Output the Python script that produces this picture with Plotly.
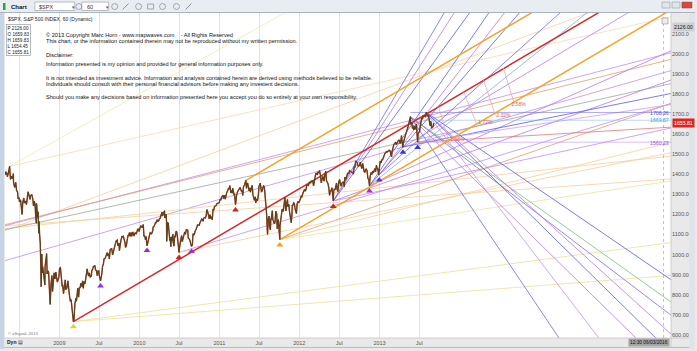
import plotly.graph_objects as go

# ---------------- price series: S&P 500 (60-min chart, sampled) ----------------
spx_2008 = [
    ("2008-04-28", 1397), ("2008-05-02", 1413), ("2008-05-06", 1405), ("2008-05-09", 1388),
    ("2008-05-14", 1410), ("2008-05-19", 1440), ("2008-05-23", 1375), ("2008-05-28", 1390),
    ("2008-06-02", 1378), ("2008-06-05", 1404), ("2008-06-06", 1360), ("2008-06-11", 1335),
    ("2008-06-16", 1360), ("2008-06-20", 1318), ("2008-06-24", 1314), ("2008-06-27", 1278),
    ("2008-07-01", 1284), ("2008-07-03", 1262), ("2008-07-08", 1273), ("2008-07-11", 1239),
    ("2008-07-15", 1200), ("2008-07-18", 1260), ("2008-07-23", 1282), ("2008-07-25", 1257),
    ("2008-07-29", 1263), ("2008-07-31", 1267), ("2008-08-04", 1249), ("2008-08-08", 1296),
    ("2008-08-11", 1313), ("2008-08-15", 1298), ("2008-08-20", 1275), ("2008-08-22", 1292),
    ("2008-08-28", 1300), ("2008-09-02", 1277), ("2008-09-05", 1242), ("2008-09-08", 1267),
    ("2008-09-12", 1252), ("2008-09-15", 1193), ("2008-09-18", 1156), ("2008-09-19", 1255),
    ("2008-09-24", 1186), ("2008-09-26", 1213), ("2008-09-29", 1106), ("2008-09-30", 1166),
    ("2008-10-03", 1099), ("2008-10-06", 1056), ("2008-10-09", 909), ("2008-10-10", 840),
    ("2008-10-13", 1003), ("2008-10-15", 908), ("2008-10-17", 940), ("2008-10-22", 896),
    ("2008-10-24", 877), ("2008-10-27", 848), ("2008-10-28", 940), ("2008-10-31", 968),
    ("2008-11-04", 1005), ("2008-11-06", 904), ("2008-11-10", 919), ("2008-11-13", 911),
    ("2008-11-14", 873), ("2008-11-19", 806), ("2008-11-20", 752), ("2008-11-24", 851),
    ("2008-11-28", 896), ("2008-12-01", 816), ("2008-12-04", 845), ("2008-12-08", 909),
    ("2008-12-12", 879), ("2008-12-16", 913), ("2008-12-19", 887), ("2008-12-23", 863),
    ("2008-12-30", 890),
]
spx_2009 = [
    ("2009-01-02", 931), ("2009-01-06", 934), ("2009-01-09", 890), ("2009-01-14", 842),
    ("2009-01-16", 850), ("2009-01-20", 805), ("2009-01-23", 831), ("2009-01-28", 874),
    ("2009-01-30", 826), ("2009-02-04", 832), ("2009-02-09", 869), ("2009-02-10", 827),
    ("2009-02-13", 827), ("2009-02-17", 789), ("2009-02-20", 770), ("2009-02-24", 773),
    ("2009-02-27", 735), ("2009-03-02", 700), ("2009-03-05", 682), ("2009-03-06", 666),
    ("2009-03-09", 677), ("2009-03-10", 720), ("2009-03-13", 756), ("2009-03-17", 778),
    ("2009-03-19", 784), ("2009-03-20", 768), ("2009-03-23", 823), ("2009-03-26", 832),
    ("2009-03-30", 788), ("2009-04-02", 834), ("2009-04-06", 835), ("2009-04-09", 857),
    ("2009-04-14", 841), ("2009-04-17", 869), ("2009-04-20", 832), ("2009-04-24", 866),
    ("2009-04-28", 855), ("2009-04-30", 873), ("2009-05-04", 907), ("2009-05-08", 929),
    ("2009-05-11", 909), ("2009-05-14", 893), ("2009-05-18", 909), ("2009-05-22", 887),
    ("2009-05-27", 893), ("2009-05-29", 919), ("2009-06-03", 931), ("2009-06-05", 940),
    ("2009-06-09", 942), ("2009-06-12", 946), ("2009-06-15", 923), ("2009-06-19", 921),
    ("2009-06-23", 895), ("2009-06-26", 918), ("2009-06-30", 919), ("2009-07-02", 896),
    ("2009-07-08", 869), ("2009-07-10", 879), ("2009-07-14", 905), ("2009-07-17", 940),
    ("2009-07-21", 954), ("2009-07-24", 979), ("2009-07-28", 980), ("2009-07-31", 987),
    ("2009-08-04", 1005), ("2009-08-07", 1010), ("2009-08-11", 994), ("2009-08-14", 1005),
    ("2009-08-17", 979), ("2009-08-21", 1026), ("2009-08-25", 1028), ("2009-08-28", 1029),
    ("2009-09-01", 998), ("2009-09-04", 1016), ("2009-09-08", 1025), ("2009-09-11", 1042),
    ("2009-09-17", 1068), ("2009-09-22", 1072), ("2009-09-25", 1044), ("2009-09-30", 1057),
    ("2009-10-02", 1020), ("2009-10-06", 1054), ("2009-10-09", 1071), ("2009-10-14", 1092),
    ("2009-10-16", 1087), ("2009-10-20", 1091), ("2009-10-23", 1080), ("2009-10-27", 1063),
    ("2009-10-30", 1036), ("2009-11-03", 1045), ("2009-11-06", 1069), ("2009-11-11", 1098),
    ("2009-11-13", 1093), ("2009-11-17", 1110), ("2009-11-20", 1091), ("2009-11-25", 1110),
    ("2009-11-27", 1091), ("2009-12-02", 1113), ("2009-12-04", 1106), ("2009-12-08", 1092),
    ("2009-12-11", 1106), ("2009-12-15", 1108), ("2009-12-18", 1102), ("2009-12-24", 1126),
    ("2009-12-28", 1127), ("2009-12-31", 1115),
]
spx_2010 = [
    ("2010-01-04", 1133), ("2010-01-08", 1144), ("2010-01-12", 1137), ("2010-01-15", 1136),
    ("2010-01-19", 1150), ("2010-01-22", 1092), ("2010-01-26", 1092), ("2010-01-29", 1074),
    ("2010-02-01", 1090), ("2010-02-04", 1063), ("2010-02-05", 1044), ("2010-02-08", 1056),
    ("2010-02-12", 1075), ("2010-02-17", 1100), ("2010-02-19", 1109), ("2010-02-24", 1105),
    ("2010-02-26", 1104), ("2010-03-03", 1119), ("2010-03-05", 1138), ("2010-03-09", 1140),
    ("2010-03-12", 1150), ("2010-03-16", 1160), ("2010-03-19", 1159), ("2010-03-23", 1174),
    ("2010-03-26", 1166), ("2010-03-31", 1169), ("2010-04-02", 1178), ("2010-04-07", 1182),
    ("2010-04-09", 1194), ("2010-04-15", 1211), ("2010-04-16", 1192), ("2010-04-20", 1207),
    ("2010-04-23", 1217), ("2010-04-26", 1219), ("2010-04-27", 1183), ("2010-04-30", 1187),
    ("2010-05-03", 1202), ("2010-05-05", 1166), ("2010-05-06", 1066), ("2010-05-07", 1110),
    ("2010-05-10", 1159), ("2010-05-13", 1157), ("2010-05-14", 1135), ("2010-05-18", 1120),
    ("2010-05-20", 1071), ("2010-05-21", 1087), ("2010-05-25", 1040), ("2010-05-26", 1068),
    ("2010-05-28", 1089), ("2010-06-01", 1070), ("2010-06-03", 1102), ("2010-06-04", 1064),
    ("2010-06-08", 1042), ("2010-06-11", 1091), ("2010-06-14", 1090), ("2010-06-18", 1117),
    ("2010-06-21", 1113), ("2010-06-25", 1076), ("2010-06-29", 1041), ("2010-07-01", 1011),
    ("2010-07-02", 1022), ("2010-07-07", 1060), ("2010-07-09", 1077), ("2010-07-13", 1095),
    ("2010-07-16", 1065), ("2010-07-20", 1083), ("2010-07-23", 1102), ("2010-07-27", 1113),
    ("2010-07-30", 1101), ("2010-08-04", 1127), ("2010-08-06", 1121), ("2010-08-10", 1121),
    ("2010-08-12", 1083), ("2010-08-16", 1079), ("2010-08-20", 1071), ("2010-08-24", 1051),
    ("2010-08-27", 1041), ("2010-08-31", 1049), ("2010-09-02", 1090), ("2010-09-03", 1104),
    ("2010-09-08", 1098), ("2010-09-10", 1110), ("2010-09-14", 1121), ("2010-09-17", 1125),
    ("2010-09-21", 1140), ("2010-09-24", 1148), ("2010-09-28", 1147), ("2010-10-01", 1146),
    ("2010-10-05", 1160), ("2010-10-08", 1165), ("2010-10-13", 1178), ("2010-10-15", 1176),
    ("2010-10-19", 1166), ("2010-10-22", 1183), ("2010-10-26", 1185), ("2010-10-29", 1183),
    ("2010-11-02", 1193), ("2010-11-05", 1225), ("2010-11-09", 1213), ("2010-11-12", 1199),
    ("2010-11-16", 1178), ("2010-11-19", 1199), ("2010-11-23", 1180), ("2010-11-26", 1189),
    ("2010-11-30", 1174), ("2010-12-03", 1224), ("2010-12-07", 1223), ("2010-12-10", 1240),
    ("2010-12-14", 1241), ("2010-12-17", 1244), ("2010-12-21", 1254), ("2010-12-27", 1257),
    ("2010-12-31", 1258),
]
spx_2011 = [
    ("2011-01-05", 1276), ("2011-01-07", 1271), ("2011-01-11", 1286), ("2011-01-14", 1293),
    ("2011-01-18", 1296), ("2011-01-20", 1280), ("2011-01-21", 1283), ("2011-01-26", 1296),
    ("2011-01-28", 1276), ("2011-02-01", 1307), ("2011-02-04", 1310), ("2011-02-09", 1320),
    ("2011-02-11", 1329), ("2011-02-15", 1328), ("2011-02-18", 1344), ("2011-02-23", 1307),
    ("2011-02-25", 1320), ("2011-03-01", 1306), ("2011-03-03", 1331), ("2011-03-07", 1311),
    ("2011-03-10", 1295), ("2011-03-11", 1304), ("2011-03-16", 1249), ("2011-03-18", 1279),
    ("2011-03-21", 1298), ("2011-03-25", 1313), ("2011-03-29", 1320), ("2011-04-01", 1332),
    ("2011-04-06", 1335), ("2011-04-08", 1328), ("2011-04-12", 1314), ("2011-04-15", 1319),
    ("2011-04-18", 1295), ("2011-04-21", 1337), ("2011-04-26", 1348), ("2011-05-02", 1370),
    ("2011-05-05", 1330), ("2011-05-06", 1340), ("2011-05-10", 1357), ("2011-05-13", 1338),
    ("2011-05-17", 1318), ("2011-05-20", 1333), ("2011-05-23", 1311), ("2011-05-27", 1331),
    ("2011-05-31", 1345), ("2011-06-03", 1300), ("2011-06-07", 1285), ("2011-06-10", 1271),
    ("2011-06-14", 1288), ("2011-06-16", 1258), ("2011-06-20", 1278), ("2011-06-24", 1268),
    ("2011-06-28", 1296), ("2011-07-01", 1340), ("2011-07-07", 1356), ("2011-07-08", 1344),
    ("2011-07-12", 1314), ("2011-07-15", 1316), ("2011-07-19", 1327), ("2011-07-22", 1345),
    ("2011-07-26", 1331), ("2011-07-29", 1292), ("2011-08-02", 1254), ("2011-08-04", 1200),
    ("2011-08-05", 1199), ("2011-08-08", 1119), ("2011-08-09", 1101), ("2011-08-10", 1120),
    ("2011-08-11", 1172), ("2011-08-12", 1179), ("2011-08-16", 1192), ("2011-08-18", 1140),
    ("2011-08-19", 1124), ("2011-08-22", 1123), ("2011-08-24", 1177), ("2011-08-26", 1177),
    ("2011-08-31", 1219), ("2011-09-02", 1174), ("2011-09-06", 1165), ("2011-09-09", 1154),
    ("2011-09-12", 1162), ("2011-09-16", 1216), ("2011-09-20", 1202), ("2011-09-22", 1129),
    ("2011-09-23", 1136), ("2011-09-27", 1175), ("2011-09-30", 1131), ("2011-10-03", 1099),
    ("2011-10-04", 1075), ("2011-10-05", 1144), ("2011-10-07", 1155), ("2011-10-11", 1195),
    ("2011-10-14", 1224), ("2011-10-18", 1225), ("2011-10-20", 1215), ("2011-10-21", 1238),
    ("2011-10-24", 1254), ("2011-10-27", 1285), ("2011-10-31", 1253), ("2011-11-01", 1218),
    ("2011-11-04", 1253), ("2011-11-08", 1275), ("2011-11-10", 1239), ("2011-11-14", 1251),
    ("2011-11-17", 1216), ("2011-11-21", 1193), ("2011-11-25", 1159), ("2011-11-28", 1192),
    ("2011-11-30", 1247), ("2011-12-02", 1244), ("2011-12-06", 1258), ("2011-12-09", 1255),
    ("2011-12-13", 1226), ("2011-12-16", 1219), ("2011-12-19", 1205), ("2011-12-22", 1254),
    ("2011-12-27", 1265), ("2011-12-30", 1258),
]
spx_2012 = [
    ("2012-01-03", 1277), ("2012-01-06", 1278), ("2012-01-10", 1292), ("2012-01-13", 1289),
    ("2012-01-18", 1308), ("2012-01-20", 1315), ("2012-01-25", 1326), ("2012-01-27", 1316),
    ("2012-02-01", 1324), ("2012-02-03", 1344), ("2012-02-07", 1347), ("2012-02-10", 1342),
    ("2012-02-14", 1350), ("2012-02-17", 1361), ("2012-02-22", 1358), ("2012-02-24", 1366),
    ("2012-02-29", 1366), ("2012-03-02", 1370), ("2012-03-06", 1343), ("2012-03-09", 1370),
    ("2012-03-13", 1395), ("2012-03-16", 1404), ("2012-03-20", 1405), ("2012-03-23", 1397),
    ("2012-03-27", 1412), ("2012-03-30", 1408), ("2012-04-02", 1419), ("2012-04-06", 1398),
    ("2012-04-10", 1358), ("2012-04-13", 1370), ("2012-04-17", 1390), ("2012-04-20", 1378),
    ("2012-04-23", 1366), ("2012-04-27", 1403), ("2012-05-01", 1415), ("2012-05-04", 1369),
    ("2012-05-08", 1363), ("2012-05-11", 1353), ("2012-05-15", 1330), ("2012-05-18", 1295),
    ("2012-05-21", 1316), ("2012-05-25", 1318), ("2012-05-29", 1333), ("2012-06-01", 1278),
    ("2012-06-04", 1267), ("2012-06-06", 1315), ("2012-06-08", 1325), ("2012-06-12", 1324),
    ("2012-06-15", 1343), ("2012-06-19", 1357), ("2012-06-21", 1326), ("2012-06-25", 1314),
    ("2012-06-29", 1362), ("2012-07-03", 1374), ("2012-07-06", 1355), ("2012-07-10", 1341),
    ("2012-07-13", 1356), ("2012-07-17", 1363), ("2012-07-20", 1363), ("2012-07-24", 1339),
    ("2012-07-27", 1386), ("2012-08-01", 1375), ("2012-08-03", 1391), ("2012-08-07", 1401),
    ("2012-08-10", 1406), ("2012-08-14", 1404), ("2012-08-17", 1418), ("2012-08-21", 1414),
    ("2012-08-24", 1411), ("2012-08-28", 1410), ("2012-08-31", 1407), ("2012-09-04", 1404),
    ("2012-09-07", 1438), ("2012-09-11", 1434), ("2012-09-14", 1466), ("2012-09-18", 1459),
    ("2012-09-21", 1460), ("2012-09-25", 1441), ("2012-09-28", 1441), ("2012-10-02", 1445),
    ("2012-10-05", 1461), ("2012-10-09", 1441), ("2012-10-12", 1429), ("2012-10-16", 1454),
    ("2012-10-19", 1433), ("2012-10-23", 1413), ("2012-10-26", 1411), ("2012-11-01", 1428),
    ("2012-11-05", 1418), ("2012-11-07", 1395), ("2012-11-09", 1380), ("2012-11-13", 1375),
    ("2012-11-15", 1353), ("2012-11-16", 1343), ("2012-11-19", 1387), ("2012-11-23", 1409),
    ("2012-11-27", 1399), ("2012-11-30", 1416), ("2012-12-04", 1407), ("2012-12-07", 1418),
    ("2012-12-11", 1429), ("2012-12-14", 1413), ("2012-12-18", 1446), ("2012-12-21", 1430),
    ("2012-12-24", 1426), ("2012-12-28", 1398), ("2012-12-31", 1426),
]
spx_2013 = [
    ("2013-01-02", 1462), ("2013-01-04", 1466), ("2013-01-08", 1457), ("2013-01-11", 1472),
    ("2013-01-15", 1472), ("2013-01-18", 1486), ("2013-01-23", 1494), ("2013-01-25", 1503),
    ("2013-01-29", 1507), ("2013-02-01", 1513), ("2013-02-05", 1511), ("2013-02-08", 1518),
    ("2013-02-12", 1519), ("2013-02-15", 1520), ("2013-02-20", 1512), ("2013-02-21", 1502),
    ("2013-02-25", 1488), ("2013-02-27", 1515), ("2013-03-01", 1518), ("2013-03-05", 1539),
    ("2013-03-08", 1551), ("2013-03-12", 1552), ("2013-03-15", 1561), ("2013-03-19", 1549),
    ("2013-03-22", 1556), ("2013-03-26", 1563), ("2013-03-28", 1569), ("2013-04-02", 1570),
    ("2013-04-05", 1553), ("2013-04-09", 1568), ("2013-04-11", 1593), ("2013-04-15", 1553),
    ("2013-04-18", 1536), ("2013-04-19", 1555), ("2013-04-23", 1578), ("2013-04-26", 1582),
    ("2013-04-30", 1598), ("2013-05-03", 1614), ("2013-05-07", 1625), ("2013-05-10", 1633),
    ("2013-05-14", 1650), ("2013-05-17", 1667), ("2013-05-22", 1687), ("2013-05-23", 1650),
    ("2013-05-28", 1660), ("2013-05-31", 1631), ("2013-06-04", 1631), ("2013-06-06", 1622),
    ("2013-06-07", 1643), ("2013-06-11", 1626), ("2013-06-14", 1627), ("2013-06-18", 1651),
    ("2013-06-20", 1588), ("2013-06-24", 1560), ("2013-06-26", 1603), ("2013-06-28", 1606),
    ("2013-07-03", 1615), ("2013-07-05", 1632), ("2013-07-09", 1652), ("2013-07-12", 1680),
    ("2013-07-16", 1676), ("2013-07-19", 1692), ("2013-07-23", 1692), ("2013-07-26", 1691),
    ("2013-07-30", 1685), ("2013-08-02", 1709), ("2013-08-06", 1697), ("2013-08-09", 1691),
    ("2013-08-13", 1694), ("2013-08-15", 1661), ("2013-08-19", 1646), ("2013-08-21", 1642),
    ("2013-08-23", 1664), ("2013-08-27", 1630), ("2013-08-30", 1633), ("2013-09-03", 1640),
    ("2013-09-05", 1656),
]

# ---------------- trend / fan lines: (start date, start value, value at right edge, colour, width) ----------------
RIGHT_EDGE = "2016-08-23"
LEFT_EDGE = "2008-04-28"
main_channel_lines = [
    ("2009-03-06", 666, 2418, "#d42a2a", 1.5),
    ("2011-05-02", 1370, 2613, "#f4a428", 1.5),
    ("2011-10-04", 1075, 2220, "#f4a428", 1.5),
]
left_fan_lines = [
    ("2009-03-06", 666, 896, "#ebe5a0", 0.9),
    ("2009-03-06", 666, 1060, "#ebe5a0", 0.9),
    ("2008-04-28", 970, 1917, "#bb90ea", 0.8),
    ("2008-04-28", 1119, 2358, "#f5cf9e", 0.8),
    ("2008-04-28", 1144, 1377, "#f5cf9e", 0.8),
    ("2008-04-28", 1129, 1491, "#f5cf9e", 0.8),
    ("2008-05-19", 1440, 2186, "#f7d9b4", 0.8),
    ("2008-05-19", 1440, 3279, "#efe9ad", 0.8),
    ("2008-04-28", 1144, 2006, "#c28eea", 0.8),
    ("2008-04-28", 1149, 1973, "#dca070", 0.8),
    ("2008-04-28", 1124, 1852, "#9aa89a", 0.8),
    ("2011-10-04", 1075, 1560, "#f5cf9e", 0.8),
    ("2011-10-04", 1075, 1367, "#ebe5a0", 0.8),
    ("2011-10-04", 1075, 1753, "#e0a070", 0.8),
    ("2010-07-01", 1011, 1753, "#c28eea", 0.8),
    ("2010-07-01", 1011, 1508, "#f5cf9e", 0.8),
]
down_fan_lines = [
    ("2013-08-02", 1709, 875, "#5b5be6", 0.8),
    ("2013-05-22", 1687, 764, "#7cbc7c", 0.8),
    ("2013-05-22", 1687, 698, "#7c6ce6", 0.8),
    ("2013-08-02", 1709, 604, "#b67ae8", 0.8),
    ("2013-08-02", 1709, 510, "#5b5be6", 0.8),
    ("2013-05-22", 1687, 413, "#b67ae8", 0.8),
    ("2013-08-02", 1709, 114, "#c890f0", 0.8),
    ("2013-05-22", 1687, -247, "#6a6ae8", 0.8),
]
up_fan_lines = [
    ("2012-06-04", 1267, 4123, "#6a6ae8", 0.8),
    ("2012-06-04", 1267, 3887, "#b67ae8", 0.8),
    ("2012-06-04", 1267, 3591, "#5b5be6", 0.8),
    ("2012-06-04", 1267, 1870, "#b67ae8", 0.8),
    ("2012-06-04", 1267, 1631, "#c28eea", 0.8),
    ("2012-11-16", 1343, 3520, "#5b5be6", 0.8),
    ("2012-11-16", 1343, 3076, "#5b5be6", 0.8),
    ("2012-11-16", 1343, 2538, "#86a8f0", 0.8),
    ("2012-11-16", 1343, 2016, "#b67ae8", 0.8),
    ("2012-12-31", 1398, 3279, "#b67ae8", 0.8),
    ("2012-12-31", 1398, 2700, "#6a6ae8", 0.8),
    ("2013-04-18", 1536, 2333, "#b67ae8", 0.8),
    ("2013-04-18", 1536, 1803, "#5b5be6", 0.8),
    ("2013-06-24", 1560, 1748, "#c9a0f0", 0.8),
    ("2013-06-24", 1560, 1635, "#e07a7a", 0.8),
]
level_lines = [
    ("2013-05-22", 1708.36, 1708.36, "#7070e8", 0.6),
    ("2013-08-02", 1669.57, 1669.57, "#8cc0f0", 0.6),
    ("2013-06-24", 1560.23, 1560.23, "#c090f0", 0.6),
]

# measurement segments between the red line and the lower orange line: (date0, value0, date1, value1)
measure_segments = [
    ("2013-09-27", 1738, "2013-11-12", 1570),
    ("2014-01-19", 1813, "2014-03-19", 1654),
    ("2014-04-20", 1872, "2014-06-14", 1694),
    ("2014-07-20", 1929, "2014-09-08", 1753),
]

# ---------------- pivot markers ----------------
pivot_dates = ["2009-03-06", "2009-07-08", "2010-02-05", "2010-07-01", "2010-08-27", "2011-03-16",
               "2011-10-04", "2012-06-04", "2012-11-16", "2012-12-31", "2013-04-18", "2013-06-24"]
pivot_values = [640, 843, 1020, 985, 1015, 1222, 1048, 1240, 1317, 1372, 1510, 1534]
pivot_colors = ["#e8d020", "#9a30d0", "#9a30d0", "#d02020", "#9a30d0", "#d02020",
                "#f0a020", "#d02020", "#9a30d0", "#6030d0", "#3838d8", "#3838d8"]

# ---------------- percentage labels ----------------
pct_text = ["2.58%", "2.32%", "1.72%", "-1.98%"]
pct_dates = ["2014-08-26", "2014-06-18", "2014-03-28", "2013-11-12"]
pct_values = [1748, 1694, 1659, 1570]

# ---------------- axis ticks ----------------
x_tick_dates = ["2008-07-01", "2009-01-01", "2009-07-01", "2010-01-01", "2010-07-01", "2011-01-01",
                "2011-07-01", "2012-01-01", "2012-07-01", "2013-01-01", "2013-07-01"]
x_tick_text = ["", "2009", "Jul", "2010", "Jul", "2011", "Jul", "2012", "Jul", "2013", "Jul"]
y_tick_values = [600, 700, 800, 900, 1000, 1100, 1200, 1300, 1400, 1500, 1600, 1700, 1800, 1900, 2000, 2100]
Y_MIN, Y_MAX = 584.4, 2204

FONT = "Liberation Sans, Arial, sans-serif"
W, H = 697, 351
ML, MR, MT, MB = 5, 24, 13, 11
PW, PH = W - ML - MR, H - MT - MB


def px(x):
    return (x - ML) / PW


def py(y):
    return (H - MB - y) / PH


fig = go.Figure()

for group in (left_fan_lines, up_fan_lines, down_fan_lines, level_lines, main_channel_lines):
    for d0, v0, v1, col, wd in group:
        fig.add_trace(go.Scatter(x=[d0, RIGHT_EDGE], y=[v0, v1], mode="lines",
                                 line=dict(color=col, width=wd), hoverinfo="skip", showlegend=False))

for d0, v0, d1, v1 in measure_segments:
    fig.add_trace(go.Scatter(x=[d0, d1], y=[v0, v1], mode="lines",
                             line=dict(color="#e6a0a0", width=0.7), hoverinfo="skip", showlegend=False))

all_spx = spx_2008 + spx_2009 + spx_2010 + spx_2011 + spx_2012 + spx_2013
sx = [d for d, _ in all_spx]
sy = [v for _, v in all_spx]
fig.add_trace(go.Scatter(x=sx, y=sy, mode="lines", line=dict(color="#a8341e", width=1.4),
                         hoverinfo="skip", showlegend=False))
fig.add_trace(go.Scatter(x=sx, y=sy, mode="lines", line=dict(color="#3a4a1a", width=0.7),
                         hoverinfo="skip", showlegend=False))

fig.add_trace(go.Scatter(x=pivot_dates, y=pivot_values, mode="markers",
                         marker=dict(symbol="triangle-up", size=6, color=pivot_colors),
                         hoverinfo="skip", showlegend=False))

fig.add_trace(go.Scatter(x=pct_dates, y=pct_values, mode="text", text=pct_text,
                         textposition="middle right",
                         textfont=dict(size=5, color="#e05a5a", family=FONT),
                         hoverinfo="skip", showlegend=False))

shapes = [
    # toolbar
    dict(type="rect", xref="paper", yref="paper", x0=px(0), x1=px(W), y0=py(12), y1=py(0),
         fillcolor="#e9edf2", line=dict(width=0), layer="below"),
    dict(type="line", xref="paper", yref="paper", x0=px(0), x1=px(W), y0=py(12.5), y1=py(12.5),
         line=dict(color="#aab4c0", width=1)),
    dict(type="rect", xref="paper", yref="paper", x0=px(3), x1=px(5.5), y0=py(10), y1=py(3),
         fillcolor="#2f9e45", line=dict(width=0)),
    dict(type="rect", xref="paper", yref="paper", x0=px(35), x1=px(75), y0=py(10.5), y1=py(2),
         fillcolor="#ffffff", line=dict(color="#a4acb6", width=0.8)),
    dict(type="rect", xref="paper", yref="paper", x0=px(82), x1=px(109), y0=py(10.5), y1=py(2),
         fillcolor="#ffffff", line=dict(color="#a4acb6", width=0.8)),
    # left and right window borders
    dict(type="rect", xref="paper", yref="paper", x0=px(0), x1=px(4), y0=py(H), y1=py(13),
         fillcolor="#c6d5e5", line=dict(width=0)),
    dict(type="rect", xref="paper", yref="paper", x0=px(691), x1=px(W), y0=py(H), y1=py(13),
         fillcolor="#dde4ec", line=dict(width=0)),
    # axis band borders
    dict(type="line", xref="paper", yref="paper", x0=1, x1=1, y0=py(349), y1=py(13),
         line=dict(color="#c4c4c4", width=0.8)),
    dict(type="line", xref="paper", yref="paper", x0=px(4), x1=px(691), y0=0, y1=0,
         line=dict(color="#c4c4c4", width=0.8)),
    dict(type="line", xref="paper", yref="paper", x0=px(4), x1=px(691), y0=py(349.5), y1=py(349.5),
         line=dict(color="#b0b0b0", width=0.8)),
    # cursor line
    dict(type="line", xref="paper", yref="paper", x0=px(665.5), x1=px(665.5), y0=0, y1=1,
         line=dict(color="#a8a8a8", width=0.7, dash="dot")),
    # small box icon top-right of plot
    dict(type="rect", xref="paper", yref="paper", x0=px(664), x1=px(670), y0=py(24), y1=py(18),
         fillcolor="#eeeeee", line=dict(color="#909090", width=0.6)),
    # window buttons
    dict(type="rect", xref="paper", yref="paper", x0=px(664), x1=px(672), y0=py(8), y1=py(2),
         fillcolor="#dfe6ee", line=dict(color="#8090a0", width=0.5)),
    dict(type="rect", xref="paper", yref="paper", x0=px(674), x1=px(682), y0=py(8), y1=py(2),
         fillcolor="#dfe6ee", line=dict(color="#8090a0", width=0.5)),
    dict(type="rect", xref="paper", yref="paper", x0=px(684), x1=px(694), y0=py(8), y1=py(2),
         fillcolor="#d8483e", line=dict(color="#a03028", width=0.5)),
]
for cx in (79, 115, 139, 163, 177):
    shapes.append(dict(type="circle", xref="paper", yref="paper", x0=px(cx - 3), x1=px(cx + 3),
                       y0=py(9.5), y1=py(3.5), line=dict(color="#7d8a98", width=0.7)))
for cx in (126, 189):
    shapes.append(dict(type="line", xref="paper", yref="paper", x0=px(cx - 3), x1=px(cx + 3),
                       y0=py(9.5), y1=py(3.5), line=dict(color="#7d8a98", width=0.9)))
shapes.append(dict(type="rect", xref="paper", yref="paper", x0=px(148), x1=px(154), y0=py(9), y1=py(4),
                   line=dict(color="#7d8a98", width=0.7)))


def note(x, y, text, size=5.5, color="#111111", xanchor="left", **kw):
    return dict(xref="paper", yref="paper", x=px(x), y=py(y), text=text, showarrow=False,
                xanchor=xanchor, yanchor="middle", font=dict(size=size, color=color, family=FONT), **kw)


disclaimer = [
    (35.5, "© 2013 Copyright Marc Horn - www.mapwaves.com    - All Rights Reserved"),
    (41.5, "This chart, or the information contained therein may not be reproduced without my written permission."),
    (55, "Disclaimer:"),
    (64, "Information presented is my opinion and provided for general information purposes only."),
    (78, "It is not intended as investment advice. Information and analysis contained herein are derived using methods believed to be reliable."),
    (84.5, "Individuals should consult with their personal financial advisors before making any investent decisions."),
    (97.5, "Should you make any decisions based on information presented here you accept you do so entirely at your own responsibility."),
]
annotations = [note(44.5, y, t, size=5.6) for y, t in disclaimer]
annotations += [
    note(9, 6.5, "<b>Chart</b>", size=6),
    note(37, 6.5, "$SPX", size=5.5, color="#333333"),
    note(70, 6.5, "▾", size=5, color="#555555"),
    note(85, 6.5, "60", size=5.5, color="#333333"),
    note(104, 6.5, "▾", size=5, color="#555555"),
    note(6, 19, "$SPX, S&P 500 INDEX, 60 (Dynamic)", size=5, color="#222222"),
    note(6, 40.5, "P 2126.00<br>O 1659.83<br>H 1659.83<br>L 1654.45<br>C 1655.81", size=4.6,
         color="#222222", bordercolor="#8a8a8a", borderwidth=0.6, borderpad=1, bgcolor="#ffffff",
         align="left"),
    note(6, 335, "© eSignal, 2013", size=4.2, color="#777777"),
    note(5, 344.5, "<b>Dyn</b> ▤", size=5, color="#222222"),
    note(674, 27, "2126.00", size=5.2, color="#222222", bgcolor="#cfcfcf"),
    note(674, 123.7, "1655.81", size=5.2, color="#ffffff", bgcolor="#e2231c"),
    note(672.5, 114, "1708.36", size=5.2, color="#4a4ae0", xanchor="right"),
    note(672.5, 120.5, "1669.57", size=5.2, color="#3c9ee0", xanchor="right"),
    note(672.5, 144, "1560.23", size=5.2, color="#a050e0", xanchor="right"),
    note(672, 344.5, "12:30 06/03/2016", size=4.8, color="#111111", xanchor="right", bgcolor="#a4a4a4"),
]

fig.update_layout(
    width=W, height=H,
    margin=dict(l=ML, r=MR, t=MT, b=MB, pad=0),
    paper_bgcolor="#e9e9e9", plot_bgcolor="#ffffff",
    font=dict(family=FONT, size=6, color="#444444"),
    showlegend=False,
    shapes=shapes,
    annotations=annotations,
    xaxis=dict(type="date", range=[LEFT_EDGE, RIGHT_EDGE], tickvals=x_tick_dates, ticktext=x_tick_text,
               showgrid=True, gridcolor="#e2e2e2", gridwidth=1, zeroline=False, showline=False,
               ticks="", tickfont=dict(size=5.5, color="#555555"), fixedrange=True),
    yaxis=dict(side="right", range=[Y_MIN, Y_MAX], tickvals=y_tick_values,
               ticktext=[f"{v:.2f}" for v in y_tick_values], showgrid=False, zeroline=False,
               ticks="", tickfont=dict(size=5.5, color="#555555"), fixedrange=True),
)

fig.write_html("out.html")
